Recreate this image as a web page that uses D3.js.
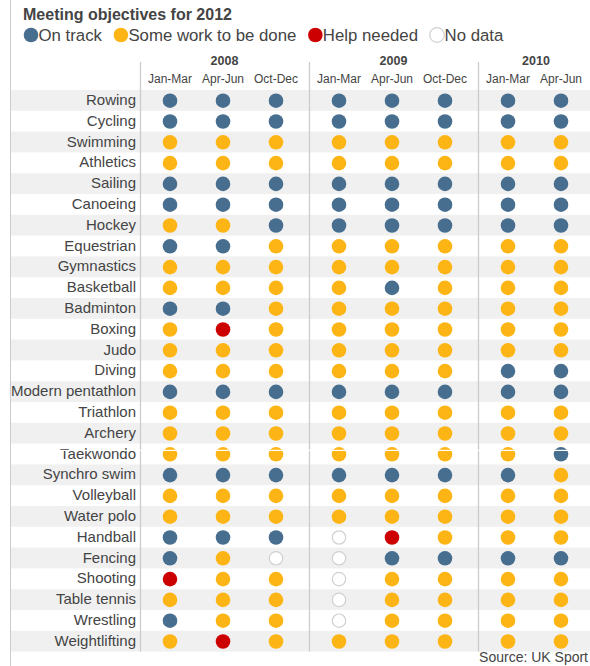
<!DOCTYPE html>
<html>
<head>
<meta charset="utf-8">
<script src="https://cdn.jsdelivr.net/npm/d3@7"></script>
<style>
  html, body { margin: 0; padding: 0; background: #fff; }
  svg { display: block; font-family: "Liberation Sans", Arial, sans-serif; }
</style>
</head>
<body>
<script>
// ---------- DATA ----------
const title = "Meeting objectives for 2012";
const source = "Source: UK Sport";
const years = ["2008", "2009", "2010"];
const quartersByYear = [
  ["Jan-Mar", "Apr-Jun", "Oct-Dec"],
  ["Jan-Mar", "Apr-Jun", "Oct-Dec"],
  ["Jan-Mar", "Apr-Jun"]
];
const statusKeys = ["on", "some", "help", "none"];
const statusLabels = ["On track", "Some work to be done", "Help needed", "No data"];
const sports = [
  "Rowing", "Cycling", "Swimming", "Athletics", "Sailing", "Canoeing", "Hockey",
  "Equestrian", "Gymnastics", "Basketball", "Badminton", "Boxing", "Judo", "Diving",
  "Modern pentathlon", "Triathlon", "Archery", "Taekwondo", "Synchro swim",
  "Volleyball", "Water polo", "Handball", "Fencing", "Shooting", "Table tennis",
  "Wrestling", "Weightlifting"
];
// one code per period: B = on track, Y = some work, R = help needed, N = no data
const statusCodes = [
  "BBBBBBBB", // Rowing
  "BBBBBBBB", // Cycling
  "YYYYYYYY", // Swimming
  "YYYYYYYY", // Athletics
  "BBBBBBBB", // Sailing
  "BBBBBBBB", // Canoeing
  "YYBBBBBB", // Hockey
  "BBYYYYYY", // Equestrian
  "YYYYYYYY", // Gymnastics
  "YYYYBYYY", // Basketball
  "BBYYYYYY", // Badminton
  "YRYYYYYY", // Boxing
  "YYYYYYYY", // Judo
  "YYYYYYBB", // Diving
  "BBBBBBBB", // Modern pentathlon
  "YYYYYYYY", // Triathlon
  "YYYYYYYY", // Archery
  "YYYYYYYB", // Taekwondo
  "BBBBBBBY", // Synchro swim
  "YYYYYYYY", // Volleyball
  "YYYYYYYY", // Water polo
  "BBBNRYYY", // Handball
  "BYNNBBBB", // Fencing
  "RYYNYYYY", // Shooting
  "YYYNYYYY", // Table tennis
  "BYYNYYYY", // Wrestling
  "YRYYYYYY"  // Weightlifting
];
const codeToStatus = { B: "on", Y: "some", R: "help", N: "none" };

// ---------- LAYOUT ----------
const W = 590, H = 666;
const colW = 53, groupGap = 10;
const gridLeft = 140, bandLeft = 11, rowTop = 90, rowH = 20.8, r = 7.3;

const fill = d3.scaleOrdinal().domain(statusKeys).range(["#476e8f", "#fdb515", "#cc0000", "#ffffff"]);
const stroke = d3.scaleOrdinal().domain(statusKeys).range(["none", "none", "none", "#d0d0d0"]);

const columns = [];
years.forEach((yr, gi) => quartersByYear[gi].forEach(q => columns.push({ key: yr + "|" + q, year: yr, q, gi })));
const xCol = d3.scaleBand().domain(columns.map(c => c.key)).range([0, columns.length * colW]);
const groupIndex = new Map(columns.map(c => [c.key, c.gi]));
const cx = key => gridLeft + 3.5 + xCol(key) + xCol.bandwidth() / 2 + groupIndex.get(key) * groupGap;
const groupStart = (yr, gi) => gridLeft + xCol(yr + "|" + quartersByYear[gi][0]) + gi * groupGap;
const groupWidth = gi => quartersByYear[gi].length * colW + groupGap;

const y = d3.scaleBand().domain(sports).range([rowTop, rowTop + sports.length * rowH]);

const svg = d3.select("body").append("svg").attr("width", W).attr("height", H);

// row bands
svg.append("g").selectAll("rect").data(sports.filter((s, i) => i % 2 === 0)).join("rect")
  .attr("x", bandLeft).attr("y", d => y(d)).attr("width", W - bandLeft).attr("height", y.bandwidth())
  .attr("fill", "#f0f0f0");

// left border
svg.append("line").attr("x1", bandLeft - 0.5).attr("x2", bandLeft - 0.5).attr("y1", 0).attr("y2", H)
  .attr("stroke", "#cccccc").attr("stroke-width", 1);

// group separators
const gridBottom = rowTop + sports.length * rowH;
svg.append("g").selectAll("line").data(years).join("line")
  .attr("x1", (d, i) => groupStart(d, i) + 0.5).attr("x2", (d, i) => groupStart(d, i) + 0.5)
  .attr("y1", 62).attr("y2", gridBottom)
  .attr("stroke", "#cccccc").attr("stroke-width", 1.3);

// title
svg.append("text").attr("x", 23).attr("y", 20).text(title)
  .attr("font-size", 16).attr("font-weight", "bold").attr("fill", "#444");

// legend
const lg = svg.append("g");
let lx = 31;
statusKeys.forEach((k, i) => {
  lg.append("circle").attr("cx", lx).attr("cy", 35).attr("r", 7.3)
    .attr("fill", fill(k)).attr("stroke", stroke(k)).attr("stroke-width", 1.2);
  const t = lg.append("text").attr("x", lx + 7.5).attr("y", 41).text(statusLabels[i])
    .attr("font-size", 16.8).attr("fill", "#444");
  lx = lx + 7.5 + t.node().getComputedTextLength() + 19;
});

// year headers
svg.append("g").selectAll("text").data(years).join("text")
  .attr("x", (d, i) => groupStart(d, i) + groupWidth(i) / 2).attr("y", 65)
  .attr("text-anchor", "middle").attr("font-size", 12.5).attr("font-weight", "bold").attr("fill", "#444")
  .text(d => d);

// quarter headers
svg.append("g").selectAll("text").data(columns).join("text")
  .attr("x", d => cx(d.key)).attr("y", 83)
  .attr("text-anchor", "middle").attr("font-size", 12).attr("fill", "#444")
  .text(d => d.q);

// sport labels
svg.append("g").selectAll("text").data(sports).join("text")
  .attr("x", 136).attr("y", d => y(d) + y.bandwidth() / 2 + 4.5)
  .attr("text-anchor", "end").attr("font-size", 15).attr("fill", "#444")
  .text(d => d);

// dots
const cells = [];
sports.forEach((s, si) => columns.forEach((c, ci) => cells.push({ sport: s, key: c.key, status: codeToStatus[statusCodes[si][ci]] })));
svg.append("g").selectAll("circle").data(cells).join("circle")
  .attr("cx", d => cx(d.key)).attr("cy", d => y(d.sport) + y.bandwidth() / 2 + 0.3)
  .attr("r", d => d.status === "none" ? r - 0.6 : r)
  .attr("fill", d => fill(d.status)).attr("stroke", d => stroke(d.status)).attr("stroke-width", 1.2);

// thin white rendering seam across the Taekwondo row (as in reference)
svg.append("rect").attr("x", bandLeft).attr("y", y("Taekwondo") + 6.2).attr("width", W - bandLeft).attr("height", 1.2)
  .attr("fill", "#ffffff");

// source
svg.append("text").attr("x", 588).attr("y", 662).attr("text-anchor", "end")
  .attr("font-size", 14).attr("fill", "#444").text(source);
</script>
</body>
</html>
